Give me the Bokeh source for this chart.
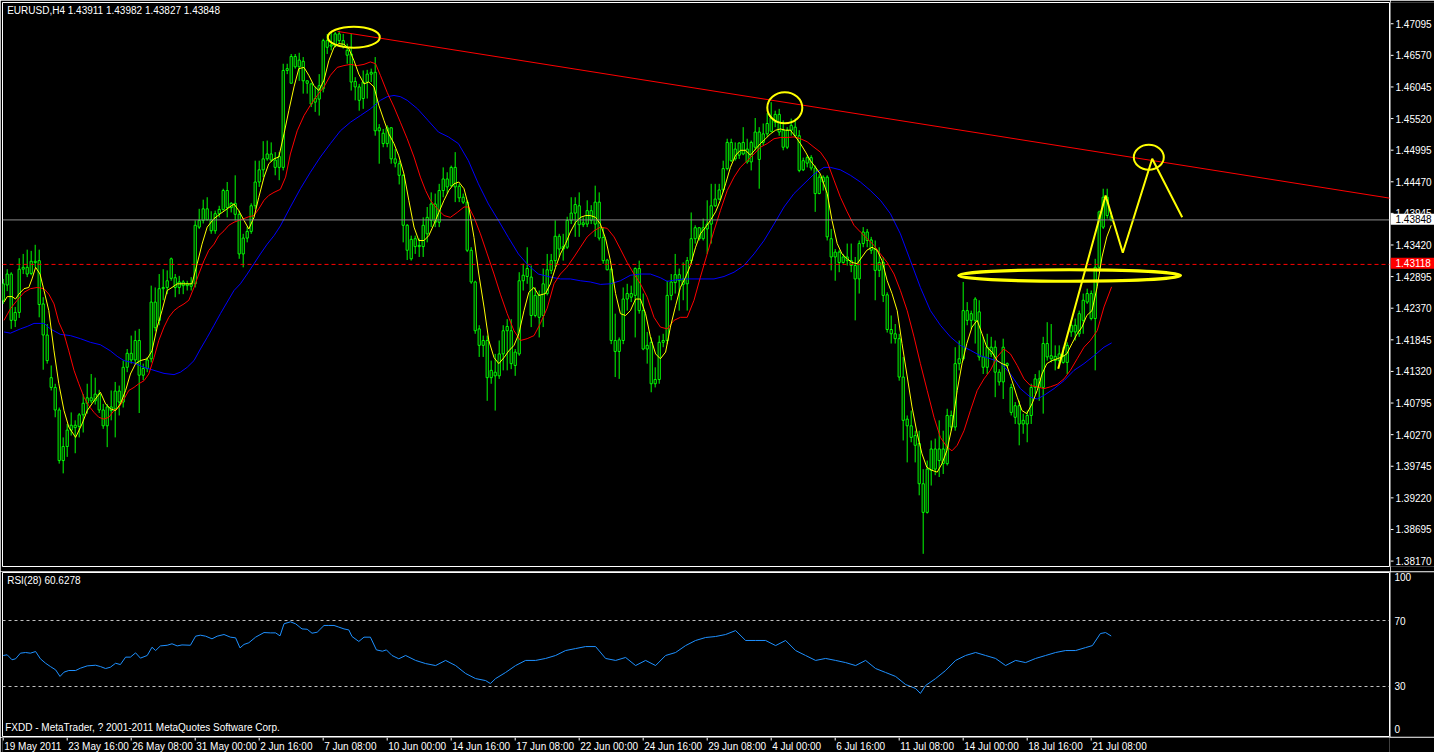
from bokeh.plotting import figure
from bokeh.models import Range1d, Span, Label, ColumnDataSource
from bokeh.layouts import column, row
from bokeh.embed import file_html
from bokeh.resources import INLINE
from bokeh.core.properties import value

# ---------------- data (EURUSD H4, bar index 0 = 19 May 2011 00:00) ----------------
symbol_title = "EURUSD,H4  1.43911 1.43982 1.43827 1.43848"
rsi_title = "RSI(28) 60.6278"
footer_text = "FXDD - MetaTrader, ? 2001-2011 MetaQuotes Software Corp."

opens = [
1.4253,1.4278,1.4296,1.4220,1.4233,1.4304,1.4307,1.4297,1.4317,1.4318,
1.4247,1.4196,1.4126,1.4110,1.4073,1.3990,1.4013,1.4040,1.4048,1.4046,
1.4065,1.4084,1.4093,1.4088,1.4099,1.4073,1.4047,1.4078,1.4075,1.4104,
1.4086,1.4143,1.4166,1.4155,1.4187,1.4130,1.4141,1.4157,1.4250,1.4220,
1.4272,1.4274,1.4289,1.4290,1.4274,1.4283,1.4277,1.4280,1.4280,1.4373,
1.4384,1.4403,1.4385,1.4367,1.4395,1.4402,1.4433,1.4405,1.4412,1.4394,
1.4329,1.4355,1.4366,1.4408,1.4447,1.4467,1.4485,1.4493,1.4483,1.4471,
1.4471,1.4630,1.4609,1.4653,1.4636,1.4645,1.4613,1.4608,1.4584,1.4583,
1.4600,1.4679,1.4670,1.4670,1.4690,1.4679,1.4663,1.4657,1.4612,1.4603,
1.4584,1.4611,1.4624,1.4627,1.4531,1.4527,1.4510,1.4536,1.4485,1.4477,
1.4458,1.4376,1.4353,1.4341,1.4341,1.4341,1.4362,1.4384,1.4411,1.4381,
1.4433,1.4452,1.4441,1.4471,1.4440,1.4422,1.4414,1.4335,1.4283,1.4206,
1.4179,1.4187,1.4126,1.4135,1.4129,1.4165,1.4203,1.4203,1.4146,1.4165,
1.4285,1.4292,1.4291,1.4228,1.4261,1.4228,1.4264,1.4302,1.4318,1.4358,
1.4337,1.4340,1.4384,1.4396,1.4408,1.4377,1.4378,1.4400,1.4378,1.4414,
1.4356,1.4319,1.4304,1.4187,1.4169,1.4187,1.4255,1.4264,1.4261,1.4305,
1.4236,1.4173,1.4184,1.4116,1.4123,1.4184,1.4187,1.4261,1.4282,1.4295,
1.4288,1.4280,1.4318,1.4354,1.4372,1.4354,1.4370,1.4378,1.4408,1.4419,
1.4434,1.4469,1.4512,1.4485,1.4491,1.4512,1.4501,1.4480,1.4504,1.4529,
1.4512,1.4526,1.4530,1.4558,1.4558,1.4532,1.4504,1.4532,1.4537,1.4523,
1.4467,1.4478,1.4487,1.4470,1.4428,1.4455,1.4455,1.4354,1.4324,1.4332,
1.4315,1.4324,1.4318,1.4310,1.4288,1.4346,1.4365,1.4352,1.4337,1.4302,
1.4315,1.4262,1.4205,1.4198,1.4190,1.4127,1.4058,1.4047,1.4031,1.4018,
1.3952,1.3905,1.3974,1.4009,1.3990,1.4009,1.3985,1.4064,1.4045,1.4149,
1.4157,1.4236,1.4220,1.4220,1.4234,1.4160,1.4143,1.4176,1.4176,1.4135,
1.4119,1.4149,1.4110,1.4080,1.4080,1.4050,1.4050,1.4064,1.4110,1.4124,
1.4110,1.4182,1.4162,1.4154,1.4154,1.4162,1.4151,1.4201,1.4212,1.4198,
1.4220,1.4250,1.4264,1.4223,1.4307,1.4373,1.4422,1.43911]

highs = [
1.4288,1.4304,1.4299,1.4242,1.4322,1.4329,1.4336,1.4334,1.4344,1.4336,
1.4258,1.4214,1.4146,1.4116,1.4077,1.4028,1.4050,1.4069,1.4056,1.4068,
1.4099,1.4116,1.4132,1.4126,1.4106,1.4083,1.4083,1.4105,1.4119,1.4113,
1.4154,1.4173,1.4195,1.4203,1.4206,1.4149,1.4160,1.4277,1.4274,1.4296,
1.4304,1.4302,1.4323,1.4296,1.4293,1.4286,1.4285,1.4291,1.4384,1.4403,
1.4418,1.4422,1.4399,1.4400,1.4408,1.4436,1.4447,1.4414,1.4458,1.4400,
1.4362,1.4374,1.4412,1.4482,1.4482,1.4514,1.4515,1.4512,1.4496,1.4496,
1.4641,1.4641,1.4657,1.4657,1.4659,1.4652,1.4614,1.4610,1.4603,1.4624,
1.4682,1.4690,1.4694,1.4693,1.4695,1.4690,1.4674,1.4690,1.4619,1.4608,
1.4630,1.4631,1.4633,1.4652,1.4542,1.4534,1.4540,1.4537,1.4501,1.4482,
1.4460,1.4378,1.4359,1.4359,1.4354,1.4389,1.4406,1.4430,1.4428,1.4444,
1.4471,1.4463,1.4474,1.4496,1.4444,1.4428,1.4417,1.4340,1.4285,1.4212,
1.4195,1.4195,1.4154,1.4165,1.4187,1.4212,1.4222,1.4222,1.4173,1.4299,
1.4313,1.4340,1.4310,1.4274,1.4269,1.4305,1.4329,1.4329,1.4384,1.4362,
1.4362,1.4390,1.4422,1.4422,1.4430,1.4389,1.4417,1.4409,1.4441,1.4430,
1.4373,1.4321,1.4307,1.4231,1.4192,1.4274,1.4280,1.4277,1.4307,1.4318,
1.4264,1.4201,1.4192,1.4143,1.4195,1.4198,1.4285,1.4296,1.4329,1.4305,
1.4315,1.4324,1.4397,1.4376,1.4373,1.4387,1.4417,1.4444,1.4444,1.4444,
1.4482,1.4518,1.4518,1.4512,1.4512,1.4537,1.4518,1.4515,1.4552,1.4537,
1.4543,1.4560,1.4578,1.4564,1.4567,1.4548,1.4537,1.4551,1.4551,1.4532,
1.4487,1.4491,1.4491,1.4474,1.4460,1.4458,1.4458,1.4370,1.4337,1.4335,
1.4329,1.4346,1.4346,1.4324,1.4351,1.4373,1.4370,1.4357,1.4351,1.4340,
1.4324,1.4266,1.4228,1.4214,1.4198,1.4160,1.4064,1.4072,1.4039,1.4039,
1.3976,1.3990,1.4023,1.4026,1.4056,1.4039,1.4075,1.4072,1.4176,1.4187,
1.4283,1.4250,1.4236,1.4258,1.4253,1.4193,1.4198,1.4193,1.4187,1.4140,
1.4190,1.4151,1.4116,1.4086,1.4088,1.4067,1.4072,1.4116,1.4132,1.4138,
1.4193,1.4217,1.4214,1.4179,1.4179,1.4176,1.4184,1.4220,1.4223,1.4236,
1.4264,1.4272,1.4269,1.4321,1.4400,1.4436,1.4436,1.43982]

lows = [
1.4247,1.4268,1.4206,1.4209,1.4224,1.4296,1.4291,1.4294,1.4307,1.4225,
1.4139,1.4149,1.4105,1.4061,1.3985,1.3969,1.3996,1.4031,1.4002,1.4028,
1.4036,1.4067,1.4084,1.4082,1.4068,1.4042,1.4012,1.4056,1.4028,1.4064,
1.4077,1.4135,1.4149,1.4149,1.4068,1.4122,1.4135,1.4151,1.4202,1.4212,
1.4253,1.4263,1.4285,1.4258,1.4263,1.4263,1.4269,1.4269,1.4274,1.4370,
1.4379,1.4384,1.4362,1.4362,1.4389,1.4400,1.4389,1.4397,1.4384,1.4321,
1.4307,1.4348,1.4362,1.4403,1.4439,1.4455,1.4482,1.4480,1.4458,1.4450,
1.4466,1.4624,1.4609,1.4633,1.4613,1.4592,1.4592,1.4570,1.4562,1.4556,
1.4594,1.4657,1.4663,1.4668,1.4674,1.4666,1.4641,1.4597,1.4581,1.4564,
1.4567,1.4584,1.4611,1.4523,1.4477,1.4504,1.4504,1.4477,1.4471,1.4443,
1.4348,1.4319,1.4318,1.4329,1.4324,1.4324,1.4348,1.4373,1.4373,1.4373,
1.4422,1.4428,1.4439,1.4414,1.4414,1.4411,1.4332,1.4280,1.4198,1.4160,
1.4160,1.4088,1.4116,1.4072,1.4124,1.4138,1.4138,1.4140,1.4129,1.4162,
1.4269,1.4280,1.4209,1.4225,1.4192,1.4209,1.4261,1.4296,1.4307,1.4324,
1.4318,1.4337,1.4378,1.4357,1.4357,1.4373,1.4373,1.4378,1.4357,1.4351,
1.4313,1.4302,1.4181,1.4127,1.4124,1.4181,1.4236,1.4250,1.4192,1.4231,
1.4171,1.4149,1.4102,1.4110,1.4116,1.4176,1.4181,1.4253,1.4264,1.4236,
1.4253,1.4236,1.4313,1.4346,1.4351,1.4351,1.4329,1.4346,1.4406,1.4417,
1.4430,1.4466,1.4480,1.4482,1.4485,1.4491,1.4477,1.4466,1.4499,1.4436,
1.4507,1.4521,1.4529,1.4537,1.4523,1.4499,1.4501,1.4523,1.4521,1.4463,
1.4465,1.4471,1.4466,1.4398,1.4427,1.4433,1.4351,1.4302,1.4285,1.4299,
1.4313,1.4310,1.4299,1.4220,1.4264,1.4340,1.4340,1.4329,1.4253,1.4291,
1.4250,1.4200,1.4182,1.4182,1.4121,1.4023,1.3987,1.4020,1.3987,1.3933,
1.3837,1.3903,1.3949,1.3966,1.3963,1.3968,1.3982,1.4039,1.4039,1.4138,
1.4154,1.4212,1.4206,1.4182,1.4154,1.4132,1.4132,1.4160,1.4094,1.4113,
1.4091,1.4143,1.4064,1.4050,1.4015,1.4034,1.4020,1.4050,1.4099,1.4088,
1.4067,1.4154,1.4151,1.4138,1.4143,1.4149,1.4132,1.4193,1.4187,1.4193,
1.4198,1.4247,1.4220,1.4138,1.4305,1.4370,1.4387,1.43827]

closes = [
1.4280,1.4296,1.4220,1.4233,1.4304,1.4307,1.4296,1.4317,1.4315,1.4246,
1.4196,1.4154,1.4110,1.4073,1.3990,1.4013,1.4040,1.4048,1.4044,1.4065,
1.4084,1.4093,1.4088,1.4099,1.4073,1.4047,1.4078,1.4072,1.4104,1.4086,
1.4143,1.4166,1.4155,1.4187,1.4130,1.4141,1.4155,1.4250,1.4208,1.4272,
1.4274,1.4285,1.4321,1.4274,1.4283,1.4277,1.4280,1.4276,1.4376,1.4384,
1.4403,1.4385,1.4367,1.4395,1.4402,1.4433,1.4405,1.4412,1.4394,1.4329,
1.4355,1.4366,1.4408,1.4447,1.4467,1.4485,1.4493,1.4483,1.4471,1.4489,
1.4630,1.4633,1.4653,1.4636,1.4647,1.4613,1.4609,1.4575,1.4578,1.4605,
1.4679,1.4668,1.4672,1.4690,1.4679,1.4669,1.4655,1.4611,1.4603,1.4581,
1.4611,1.4624,1.4627,1.4531,1.4536,1.4510,1.4536,1.4485,1.4478,1.4458,
1.4376,1.4335,1.4321,1.4354,1.4343,1.4376,1.4389,1.4411,1.4381,1.4433,
1.4452,1.4439,1.4471,1.4439,1.4421,1.4414,1.4335,1.4283,1.4203,1.4179,
1.4187,1.4126,1.4138,1.4129,1.4165,1.4203,1.4210,1.4149,1.4168,1.4285,
1.4294,1.4305,1.4228,1.4261,1.4225,1.4280,1.4303,1.4318,1.4358,1.4337,
1.4341,1.4384,1.4396,1.4410,1.4377,1.4380,1.4400,1.4384,1.4414,1.4355,
1.4318,1.4303,1.4187,1.4169,1.4188,1.4255,1.4264,1.4258,1.4305,1.4236,
1.4173,1.4179,1.4116,1.4123,1.4184,1.4187,1.4261,1.4283,1.4295,1.4285,
1.4279,1.4318,1.4354,1.4372,1.4354,1.4372,1.4378,1.4408,1.4419,1.4434,
1.4469,1.4512,1.4482,1.4501,1.4511,1.4493,1.4480,1.4512,1.4529,1.4484,
1.4526,1.4543,1.4552,1.4545,1.4529,1.4504,1.4532,1.4540,1.4523,1.4466,
1.4482,1.4487,1.4470,1.4428,1.4455,1.4447,1.4357,1.4324,1.4332,1.4315,
1.4324,1.4318,1.4310,1.4288,1.4346,1.4365,1.4351,1.4335,1.4302,1.4315,
1.4261,1.4205,1.4198,1.4190,1.4127,1.4056,1.4047,1.4028,1.4015,1.3952,
1.3905,1.3976,1.4009,1.3976,1.4009,1.3985,1.4064,1.4045,1.4149,1.4157,
1.4236,1.4220,1.4231,1.4255,1.4160,1.4143,1.4176,1.4165,1.4135,1.4119,
1.4176,1.4146,1.4069,1.4061,1.4050,1.4056,1.4064,1.4110,1.4124,1.4110,
1.4182,1.4160,1.4157,1.4161,1.4165,1.4151,1.4179,1.4212,1.4201,1.4231,
1.4253,1.4264,1.4223,1.4307,1.4398,1.4422,1.4392,1.43848]

# fast moving average (yellow): bar index, price
ma_fast_x = [0.2,1.0,2.2,3.1,3.9,5.2,6.4,7.2,8.1,9.2,10.2,11.4,12.7,13.9,15.2,16.4,18.1,19.7,21.0,22.7,
24.3,25.6,26.8,28.1,29.3,30.6,31.8,33.1,34.3,36.0,37.2,38.5,39.7,41.0,42.2,43.5,46.0,47.2,48.5,49.7,
51.0,52.7,54.3,56.0,57.7,58.9,60.2,61.4,62.7,63.9,65.2,66.4,67.7,68.9,70.2,71.4,72.7,73.9,75.2,76.4,
77.7,78.9,80.2,81.4,82.7,83.9,85.2,86.4,87.7,88.9,90.2,91.4,92.7,93.9,95.2,96.4,97.7,98.9,100.2,101.4,
102.7,103.9,105.2,106.4,107.7,108.9,110.2,111.4,112.7,113.9,115.2,116.4,117.7,118.9,120.2,121.4,122.7,123.9,125.2,126.4,
127.7,128.9,130.2,131.4,132.7,133.9,135.6,136.8,138.1,139.3,140.6,141.8,143.1,144.3,145.6,146.8,148.1,149.3,150.6,151.8,
153.1,154.3,155.6,156.8,158.1,159.3,160.6,161.8,163.1,164.3,165.6,166.8,168.1,169.3,170.6,171.8,173.1,174.3,175.6,176.8,
178.1,179.3,180.6,181.8,183.1,184.3,185.6,186.8,188.1,189.3,190.6,191.8,193.1,194.3,195.6,196.8,198.1,199.3,200.6,201.8,
203.1,204.3,206.0,207.2,208.5,209.7,211.0,212.2,213.5,214.7,215.9,217.2,218.5,219.7,221.0,222.2,223.5,224.7,225.9,227.2,
228.5,229.7,230.9,232.2,233.5,234.7,235.9,237.2,238.5,239.7,240.9,242.2,243.5,244.7,245.9,247.2,248.5,249.7,250.9,252.2,
253.5,254.7,255.9,257.2,258.5,259.7,260.9,262.2,263.5,264.7,265.9,267.2,268.5,269.7,270.9,272.2,273.5,274.7,275.9,277.0]
ma_fast = [1.4250,1.4259,1.4259,1.4255,1.4263,1.4272,1.4274,1.4288,1.4307,1.4296,1.4269,1.4236,1.4170,1.4116,1.4072,1.4045,1.4028,1.4050,1.4072,1.4088,
1.4102,1.4083,1.4075,1.4072,1.4083,1.4105,1.4132,1.4149,1.4154,1.4157,1.4170,1.4209,1.4236,1.4269,1.4274,1.4280,1.4280,1.4280,1.4313,1.4345,
1.4373,1.4387,1.4395,1.4403,1.4411,1.4400,1.4384,1.4370,1.4389,1.4422,1.4455,1.4477,1.4485,1.4488,1.4526,1.4564,1.4603,1.4633,1.4635,1.4622,
1.4605,1.4597,1.4614,1.4646,1.4668,1.4674,1.4673,1.4666,1.4646,1.4624,1.4608,1.4611,1.4603,1.4573,1.4548,1.4526,1.4510,1.4490,1.4460,1.4417,
1.4373,1.4351,1.4351,1.4359,1.4378,1.4397,1.4417,1.4433,1.4444,1.4447,1.4436,1.4406,1.4356,1.4296,1.4242,1.4187,1.4159,1.4149,1.4159,1.4170,
1.4179,1.4198,1.4236,1.4266,1.4274,1.4261,1.4264,1.4280,1.4307,1.4329,1.4346,1.4365,1.4381,1.4389,1.4392,1.4392,1.4389,1.4378,1.4354,1.4318,
1.4264,1.4231,1.4228,1.4236,1.4255,1.4255,1.4231,1.4193,1.4165,1.4157,1.4168,1.4209,1.4244,1.4274,1.4291,1.4310,1.4340,1.4362,1.4373,1.4384,
1.4398,1.4417,1.4444,1.4471,1.4491,1.4499,1.4499,1.4491,1.4501,1.4510,1.4518,1.4526,1.4532,1.4534,1.4532,1.4532,1.4521,1.4510,1.4496,1.4482,
1.4471,1.4460,1.4428,1.4384,1.4346,1.4329,1.4321,1.4315,1.4313,1.4324,1.4335,1.4340,1.4335,1.4318,1.4285,1.4264,1.4236,1.4182,1.4132,1.4078,
1.4034,1.4001,1.3979,1.3974,1.3971,1.3985,1.4006,1.4045,1.4105,1.4149,1.4182,1.4209,1.4220,1.4198,1.4176,1.4168,1.4154,1.4149,1.4146,1.4121,
1.4094,1.4072,1.4067,1.4083,1.4105,1.4132,1.4149,1.4154,1.4157,1.4160,1.4165,1.4182,1.4198,1.4209,1.4228,1.4236,1.4275,1.4324,1.4357,1.4376]

# medium moving average (red)
ma_mid_x = [0.2,1.8,3.5,5.2,6.8,8.5,10.2,11.4,12.7,13.9,15.2,16.4,17.7,18.9,20.2,21.4,22.7,23.9,25.2,26.4,
27.7,28.9,30.2,31.4,32.7,33.9,35.2,36.4,37.7,38.9,40.2,41.4,42.7,43.9,45.2,46.4,47.7,48.9,50.2,51.4,
52.7,53.9,55.2,56.4,57.7,58.9,60.2,61.4,62.7,63.9,65.2,66.4,67.7,69.3,70.6,71.8,73.5,75.2,76.8,78.5,
80.2,81.8,83.5,85.2,86.8,88.5,90.2,91.8,93.1,94.3,96.0,97.7,99.3,101.0,102.7,104.3,105.6,106.8,108.5,110.2,
111.8,113.5,115.2,116.4,117.7,119.3,121.0,122.7,124.3,126.0,127.7,129.3,131.0,132.7,134.3,136.0,137.7,139.3,140.9,142.7,
144.3,146.0,147.7,149.3,151.0,152.7,154.3,156.0,157.7,159.3,161.0,162.7,164.3,166.0,167.7,169.3,171.0,172.7,174.3,176.0,
177.7,179.3,181.0,182.7,184.3,186.0,187.7,189.3,191.0,192.7,194.3,196.0,197.7,199.3,201.0,202.7,204.3,206.0,207.7,209.3,
211.0,212.7,214.3,216.0,217.7,219.3,221.0,222.7,224.3,226.0,227.7,229.3,231.0,232.7,234.3,236.0,237.2,238.5,240.2,241.8,
243.5,245.2,246.8,248.5,250.2,251.8,253.5,255.2,256.8,258.5,260.2,261.8,263.5,265.2,266.8,268.5,270.2,271.8,273.5,275.2,277.1]
ma_mid = [1.4220,1.4239,1.4253,1.4266,1.4272,1.4274,1.4272,1.4263,1.4247,1.4217,1.4198,1.4170,1.4138,1.4116,1.4094,1.4080,1.4069,1.4061,1.4058,1.4061,
1.4072,1.4077,1.4091,1.4105,1.4110,1.4116,1.4121,1.4132,1.4159,1.4187,1.4209,1.4225,1.4236,1.4242,1.4247,1.4253,1.4274,1.4296,1.4318,1.4335,
1.4345,1.4359,1.4367,1.4376,1.4381,1.4384,1.4387,1.4390,1.4392,1.4403,1.4417,1.4425,1.4430,1.4435,1.4455,1.4493,1.4531,1.4556,1.4573,1.4589,
1.4603,1.4622,1.4635,1.4638,1.4640,1.4638,1.4640,1.4644,1.4641,1.4622,1.4594,1.4570,1.4545,1.4518,1.4488,1.4455,1.4433,1.4417,1.4403,1.4392,
1.4389,1.4397,1.4406,1.4406,1.4389,1.4362,1.4329,1.4296,1.4263,1.4231,1.4203,1.4187,1.4190,1.4195,1.4215,1.4240,1.4280,1.4296,1.4307,1.4324,
1.4340,1.4357,1.4367,1.4373,1.4371,1.4357,1.4337,1.4315,1.4296,1.4280,1.4258,1.4225,1.4209,1.4206,1.4220,1.4225,1.4225,1.4253,1.4291,1.4329,
1.4367,1.4400,1.4433,1.4455,1.4471,1.4482,1.4493,1.4504,1.4510,1.4518,1.4520,1.4520,1.4521,1.4518,1.4513,1.4504,1.4496,1.4480,1.4450,1.4422,
1.4398,1.4376,1.4365,1.4354,1.4343,1.4329,1.4315,1.4296,1.4269,1.4236,1.4193,1.4149,1.4105,1.4061,1.4028,1.4012,1.4006,1.4015,1.4039,1.4072,
1.4105,1.4124,1.4138,1.4160,1.4173,1.4165,1.4146,1.4124,1.4113,1.4111,1.4108,1.4111,1.4115,1.4124,1.4138,1.4157,1.4176,1.4187,1.4203,1.4242,1.4275]

# slow moving average (blue)
ma_slow_x = [0.2,1.8,4.3,6.0,7.7,10.2,11.8,14.3,16.8,19.3,21.8,24.3,26.8,28.5,30.2,32.7,35.2,37.7,40.2,42.7,
44.3,46.0,47.7,49.3,51.0,52.7,54.3,56.0,57.7,59.3,61.0,62.7,64.3,66.0,67.7,69.3,71.8,74.3,76.8,79.3,
81.8,84.3,86.8,89.3,91.8,94.3,96.0,97.7,99.3,101.0,103.6,106.2,108.8,111.3,113.8,116.3,118.8,121.3,123.8,126.3,
128.8,131.3,133.8,136.8,139.3,141.8,144.3,146.8,149.3,151.8,154.3,156.8,159.3,161.8,164.3,166.0,167.7,170.2,172.7,175.2,
177.7,180.2,182.7,185.2,187.7,190.2,192.7,195.2,197.7,200.2,202.7,205.2,206.8,209.3,211.8,214.3,216.8,219.3,221.8,224.3,
226.8,229.3,231.8,234.3,236.8,239.3,241.8,244.3,246.8,249.3,251.8,254.3,256.8,258.5,260.2,262.7,265.2,267.7,270.2,272.7,275.2,277.1]
ma_slow = [1.4201,1.4199,1.4206,1.4210,1.4215,1.4215,1.4206,1.4197,1.4195,1.4190,1.4184,1.4180,1.4170,1.4161,1.4154,1.4150,1.4143,1.4138,1.4133,1.4131,
1.4135,1.4143,1.4154,1.4173,1.4192,1.4212,1.4231,1.4250,1.4269,1.4280,1.4296,1.4313,1.4329,1.4345,1.4359,1.4375,1.4406,1.4436,1.4463,1.4488,
1.4510,1.4531,1.4545,1.4556,1.4567,1.4581,1.4587,1.4589,1.4587,1.4581,1.4567,1.4548,1.4529,1.4521,1.4510,1.4482,1.4444,1.4411,1.4384,1.4356,
1.4329,1.4310,1.4296,1.4291,1.4288,1.4288,1.4285,1.4283,1.4279,1.4280,1.4285,1.4294,1.4296,1.4296,1.4290,1.4284,1.4286,1.4288,1.4288,1.4288,
1.4288,1.4292,1.4299,1.4310,1.4329,1.4351,1.4378,1.4406,1.4428,1.4444,1.4460,1.4471,1.4471,1.4467,1.4458,1.4447,1.4433,1.4417,1.4395,1.4362,
1.4318,1.4274,1.4236,1.4212,1.4193,1.4179,1.4171,1.4162,1.4157,1.4151,1.4132,1.4108,1.4094,1.4091,1.4097,1.4108,1.4121,1.4138,1.4149,1.4162,1.4176,1.4183]

# RSI(28)
rsi_x = [0.0,1.0,2.2,3.1,4.3,5.6,6.8,8.1,9.3,10.6,11.8,13.1,14.2,15.2,16.4,18.1,19.3,21.0,23.1,24.3,
25.6,26.8,28.1,29.3,30.6,31.8,33.1,34.3,36.0,37.2,38.1,39.3,41.0,42.2,43.5,44.7,46.8,48.1,49.3,50.6,
52.2,53.5,55.2,56.8,58.1,59.2,60.2,61.4,63.1,65.2,66.8,68.1,69.2,70.2,71.8,73.1,74.7,76.0,77.2,78.5,
80.2,81.4,82.7,83.9,85.2,86.4,87.2,88.9,90.2,91.8,93.3,94.8,95.8,97.2,98.9,100.6,103.1,105.6,108.1,110.6,
113.1,115.6,118.1,120.6,121.8,123.1,125.6,128.1,130.6,133.1,135.6,138.1,140.6,143.1,145.6,148.1,150.6,153.1,155.6,158.1,
160.6,163.1,165.6,168.1,170.6,173.1,175.6,178.1,180.6,183.1,185.6,188.1,190.6,193.1,195.6,198.1,200.6,203.1,205.6,208.1,
210.6,213.1,215.6,218.1,220.6,223.1,225.6,228.1,229.3,230.6,233.1,235.6,238.1,240.6,243.1,245.6,248.1,250.6,253.1,255.6,
258.1,260.6,263.1,265.6,268.1,270.6,272.3,274.3,275.6,277.0]
rsi_vals = [48.8,49.2,46.2,46.8,50.2,50.6,50.2,51.2,46.8,44.1,42.1,40.1,36.1,38.7,39.7,39.7,41.1,42.5,42.9,42.1,
40.9,41.7,44.1,43.3,47.8,47.8,50.4,47.2,48.8,53.8,51.8,54.6,55.0,55.9,54.6,55.2,55.0,60.5,61.1,60.5,
58.9,60.5,61.5,59.9,59.5,53.4,55.5,56.5,59.9,62.7,62.5,62.5,60.7,68.0,69.2,68.0,64.9,64.7,62.3,62.9,
67.0,67.0,67.0,66.0,64.9,64.3,60.3,57.3,59.9,59.9,52.2,51.4,52.2,48.8,46.8,48.8,45.8,43.9,42.7,45.8,
42.7,37.9,34.8,33.6,31.8,34.8,38.5,42.7,45.8,45.8,47.0,48.8,51.8,53.0,54.2,54.2,47.0,45.8,47.6,42.7,
45.8,42.7,48.8,50.6,54.8,57.9,59.7,60.3,61.5,63.9,57.9,57.9,57.9,54.8,57.9,51.8,48.8,45.8,47.0,45.8,
44.5,42.7,45.8,40.9,38.5,36.1,31.2,28.8,25.8,30.6,34.8,39.7,45.8,48.8,50.6,48.8,47.0,42.7,45.8,44.5,
47.0,48.8,50.6,51.8,51.8,53.6,54.8,62.1,62.7,60.6]
rsi_levels = [30, 70]
rsi_label_vals = [96.7, 70, 30, 3.9]
rsi_label_text = ["100", "70", "30", "0"]

price_ticks = [1.47095, 1.46570, 1.46045, 1.45520, 1.44995, 1.44470, 1.43945, 1.43420, 1.42895,
               1.42370, 1.41845, 1.41320, 1.40795, 1.40270, 1.39745, 1.39220, 1.38695, 1.38170]
bid_price = 1.43848
hline_price = 1.43118

time_ticks = [0, 16, 32, 48, 64, 80, 96, 112, 128, 144, 160, 176, 192, 208, 224, 240, 256, 272]
time_labels = ["19 May 2011", "23 May 16:00", "26 May 08:00", "31 May 00:00", "2 Jun 16:00",
               "7 Jun 08:00", "10 Jun 00:00", "14 Jun 16:00", "17 Jun 08:00", "22 Jun 00:00",
               "24 Jun 16:00", "29 Jun 08:00", "4 Jul 00:00", "6 Jul 16:00", "11 Jul 08:00",
               "14 Jul 00:00", "18 Jul 16:00", "21 Jul 08:00"]

# hand-drawn objects on the chart (bar index / price)
trend_x = [83.6, 350.0]
trend_y = [1.4694, 1.4417]
ell_x = [87.65, 195.4, 286.4, 266.6]
ell_y = [1.46846, 1.45688, 1.44876, 1.42936]
ell_w = [13.0, 8.75, 7.5, 55.5]
ell_h = [0.00345, 0.00509, 0.0041, 0.00187]
zig_x = [263.75, 275.6, 279.9, 287.25, 294.75]
zig_y = [1.41406, 1.44249, 1.43309, 1.44851, 1.43893]

# ---------------- layout / style ----------------
FONT = "Liberation Sans"
FS = "10px"
W = 1434
AX_W = 44
W_MAIN = W - AX_W
LB = 2
RB = 1
FW = W_MAIN - LB - RB
BAR_PX = 4.0
X0 = -0.175
X1 = X0 + FW / BAR_PX
LIME = "#00ff00"

H_MAIN, MT, MB = 571, 2, 5
P_TOP, P_BOT = 1.47415, 1.38162
PPX = (P_TOP - P_BOT) / (H_MAIN - MT - MB)

H_RSI, RT, RBOT = 166, 1, 1
RPX = 1 / 1.65
R_BOT = -0.3
R_TOP = R_BOT + (H_RSI - RT - RBOT) * RPX
H_STRIP = 15

x_range = Range1d(X0, X1)


def panel(height, y_range, top, bottom):
    f = figure(width=W_MAIN, height=height, x_range=x_range, y_range=y_range,
               x_axis_location=None, y_axis_location=None,
               toolbar_location=None, output_backend="svg",
               min_border_left=LB, min_border_right=RB,
               min_border_top=top, min_border_bottom=bottom,
               background_fill_color="black", border_fill_color="black")
    f.grid.visible = False
    f.outline_line_color = "white"
    f.outline_line_width = 1
    return f


def side(height, y_range):
    f = figure(width=AX_W, height=height, x_range=Range1d(0, AX_W), y_range=y_range,
               x_axis_location=None, y_axis_location=None,
               toolbar_location=None, output_backend="svg",
               min_border_left=0, min_border_right=0, min_border_top=0, min_border_bottom=0,
               background_fill_color="black", border_fill_color="black")
    f.grid.visible = False
    f.outline_line_color = None
    return f


# ---- main price panel ----
main = panel(H_MAIN, Range1d(P_BOT, P_TOP), MT, MB)

src = ColumnDataSource(dict(
    x=list(range(len(closes))), h=highs, l=lows,
    top=[max(o, c) for o, c in zip(opens, closes)],
    bot=[min(o, c) for o, c in zip(opens, closes)]))

main.add_layout(Span(location=bid_price, dimension="width", line_color="#8c8c8c", line_width=1))
main.add_layout(Span(location=hline_price, dimension="width", line_color="#ff0000",
                     line_width=1, line_dash="4 3"))

main.segment(x0="x", y0="h", x1="x", y1="l", source=src, line_color=LIME, line_width=1)
main.vbar(x="x", width=0.55, top="top", bottom="bot", source=src,
          fill_color="black", line_color=LIME, line_width=1)

main.line(ma_slow_x, ma_slow, line_color="#0000ff", line_width=1)
main.line(ma_mid_x, ma_mid, line_color="#ff0000", line_width=1)
main.line(ma_fast_x, ma_fast, line_color="#ffff00", line_width=1)

main.line(trend_x, trend_y, line_color="#ff0000", line_width=1)
main.ellipse(x=ell_x, y=ell_y, width=ell_w, height=ell_h, fill_color=None,
             line_color="#ffff00", line_width=[2, 2, 2, 3])
main.line(zig_x, zig_y, line_color="#ffff00", line_width=2)

main.add_layout(Label(x=1.0, y=P_TOP - 8 * PPX, text=symbol_title, text_color="white",
                      text_font=FONT, text_font_size=FS, text_baseline="middle"))

# price scale (right side)
main_ax = side(H_MAIN, Range1d(P_BOT - MB * PPX, P_TOP + MT * PPX))
main_ax.segment(x0=[0] * len(price_ticks), y0=price_ticks, x1=[3] * len(price_ticks), y1=price_ticks,
                line_color="white", line_width=1)
main_ax.text(x=[5] * len(price_ticks), y=price_ticks, text=["%.5f" % t for t in price_ticks],
             text_font=value(FONT), text_font_size=value(FS), text_color="white",
             text_align="left", text_baseline="middle")
main_ax.rect(x=[AX_W / 2, AX_W / 2], y=[bid_price, hline_price], width=AX_W, height=11,
             width_units="screen", height_units="screen",
             fill_color=["white", "#ff0000"], line_color=None)
main_ax.text(x=[5, 5], y=[bid_price, hline_price], text=["%.5f" % bid_price, "%.5f" % hline_price],
             text_font=value(FONT), text_font_size=value(FS), text_color=["black", "white"],
             text_align="left", text_baseline="middle")

# ---- RSI panel ----
rsi = panel(H_RSI, Range1d(R_BOT, R_TOP), RT, RBOT)
for lv in rsi_levels:
    rsi.add_layout(Span(location=lv, dimension="width", line_color="#c0c0c0",
                        line_width=1, line_dash="3 3"))
rsi.line(rsi_x, rsi_vals, line_color="#1e90ff", line_width=1)
rsi.add_layout(Label(x=1.0, y=94.2, text=rsi_title, text_color="white",
                     text_font=FONT, text_font_size=FS, text_baseline="middle"))
rsi.add_layout(Label(x=0.5, y=5.2, text=footer_text, text_color="white",
                     text_font=FONT, text_font_size=FS, text_baseline="middle"))

rsi_ax = side(H_RSI, Range1d(R_BOT - RBOT * RPX, R_TOP + RT * RPX))
rsi_ax.text(x=[4] * len(rsi_label_vals), y=rsi_label_vals, text=rsi_label_text,
            text_font=value(FONT), text_font_size=value(FS), text_color="white",
            text_align="left", text_baseline="middle")

# ---- time axis strip ----
strip = figure(width=W, height=H_STRIP, x_range=x_range, y_range=Range1d(0, H_STRIP),
               x_axis_location=None, y_axis_location=None,
               toolbar_location=None, output_backend="svg",
               min_border_left=LB, min_border_right=W - W_MAIN + RB,
               min_border_top=0, min_border_bottom=0,
               background_fill_color="black", border_fill_color="black")
strip.grid.visible = False
strip.outline_line_color = None
n_t = len(time_ticks)
strip.segment(x0=time_ticks, y0=[H_STRIP] * n_t, x1=time_ticks, y1=[H_STRIP - 3] * n_t,
              line_color="white", line_width=1)
strip.text(x=time_ticks, y=[H_STRIP - 8.5] * n_t, text=time_labels,
           text_font=value(FONT), text_font_size=value(FS), text_color="white",
           text_align="left", text_baseline="middle", x_offset=1)

layout = column(row(main, main_ax, spacing=0), row(rsi, rsi_ax, spacing=0), strip, spacing=0)
open("out.html", "w").write(file_html(layout, INLINE))
